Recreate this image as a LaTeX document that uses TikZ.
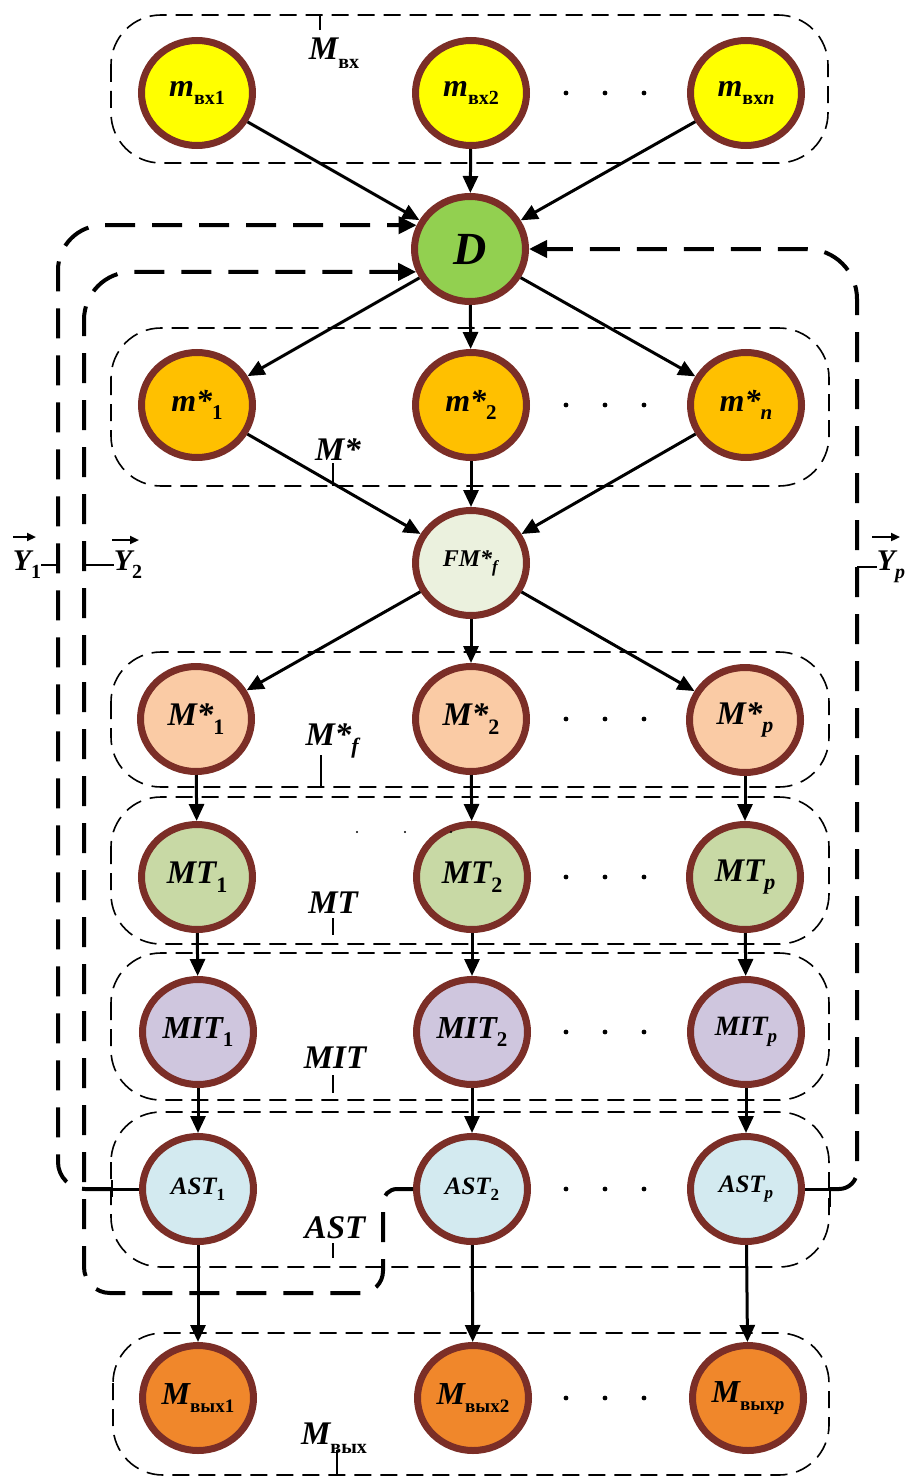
\documentclass[tikz,border=0pt]{standalone}
\usepackage{fontspec}
\setmainfont{Liberation Serif}
\usetikzlibrary{shapes.geometric,arrows.meta}
\definecolor{brd}{HTML}{7B2E27}
\definecolor{cyel}{HTML}{FFFF00}
\definecolor{cD}{HTML}{92D050}
\definecolor{cms}{HTML}{FFC000}
\definecolor{cfm}{HTML}{EBF1DE}
\definecolor{cMs}{HTML}{FACBA5}
\definecolor{cMT}{HTML}{C8D9A5}
\definecolor{cMIT}{HTML}{CFC6DE}
\definecolor{cAST}{HTML}{D3EAF0}
\definecolor{cout}{HTML}{F0872B}
\newcommand{\fs}[1]{\fontsize{#1}{#1}\selectfont}
\newcommand{\lsb}[2]{\raisebox{-0.26em}{\fontsize{#1}{#1}\selectfont\upshape #2}}
\tikzset{
 nd/.style={ellipse, draw=brd, line width=7pt, minimum width=111pt, minimum height=105pt, inner sep=0pt, font=\bfseries\itshape},
 grp/.style={draw, line width=1.6pt, dash pattern=on 17pt off 9pt, rounded corners=50pt},
 arr/.style={line width=3pt, -{Triangle[length=17pt,width=15pt]}},
 fb/.style={line width=4pt, dash pattern=on 30pt off 17pt, -{Triangle[length=18pt,width=17pt]}},
 stub/.style={line width=3pt},
 tick/.style={line width=1.6pt},
 lbl/.style={inner sep=0pt, font=\bfseries\itshape},
 vecarr/.style={line width=2.2pt, -{Triangle[length=9pt,width=8pt]}},
}
\begin{document}
\begin{tikzpicture}[x=1pt,y=-1pt]
\useasboundingbox (0,0) rectangle (909,1477);
% group boxes
\draw[grp] (111,15) rectangle (828,163);
\draw[grp] (111,328) rectangle (829,486);
\draw[grp] (111,652) rectangle (829,787);
\draw[grp] (111,797) rectangle (829,944);
\draw[grp] (111,953) rectangle (829,1100);
\draw[grp] (111,1112) rectangle (829,1267);
\draw[grp] (113,1333) rectangle (829,1475);
% group labels
\node[lbl] (Lin) at (334,53) {\fs{33}M\lsb{20}{вх}};
\draw[tick] (320,15) -- (320,30);
\node[lbl] (Lms) at (338,450) {\fs{33}M*};
\draw[tick] (333,463) -- (333,486);
\node[lbl] (LMf) at (333,741) {\fs{33}M*\lsb{22}{\textit{f}}};
\draw[tick] (321,755) -- (321,787);
\node[lbl] (LMT) at (333,903) {\fs{33}MT};
\draw[tick] (333,918) -- (333,935);
\node[lbl] (LMIT) at (335,1058) {\fs{33}MIT};
\draw[tick] (333,1075) -- (333,1093);
\node[lbl] (LAST) at (335,1228) {\fs{33}AST};
\draw[tick] (333,1243) -- (333,1258);
\node[lbl] (Lout) at (334,1438) {\fs{33}M\lsb{20}{вых}};
\draw[tick] (337,1450) -- (337,1475);
% nodes
\node[nd, fill=cyel] (a1) at (197,93) {\fs{32}m\lsb{20}{вх1}};
\node[nd, fill=cyel] (a2) at (471,93) {\fs{32}m\lsb{20}{вх2}};
\node[nd, fill=cyel] (a3) at (746,93) {\fs{32}m\lsb{20}{вх\textit{n}}};
\node[nd, fill=cD] (D) at (470,249) {\fs{46}D};
\node[nd, fill=cms] (b1) at (197,405) {\fs{32}m*\lsb{21}{1}};
\node[nd, fill=cms] (b2) at (471,405) {\fs{32}m*\lsb{21}{2}};
\node[nd, fill=cms] (b3) at (746,405) {\fs{32}m*\lsb{21}{\textit{n}}};
\node[nd, fill=cfm] (FM) at (471,563) {\fs{24}FM*\lsb{17}{\textit{f}}};
\node[nd, fill=cMs] (c1) at (196,719) {\fs{33}M*\lsb{22}{1}};
\node[nd, fill=cMs] (c2) at (471,719) {\fs{33}M*\lsb{22}{2}};
\node[nd, fill=cMs] (c3) at (745,720) {\fs{33}M*\lsb{22}{\textit{p}}};
\node[nd, fill=cMT] (d1) at (197,877) {\fs{33}MT\lsb{22}{1}};
\node[nd, fill=cMT] (d2) at (472,877) {\fs{33}MT\lsb{22}{2}};
\node[nd, fill=cMT] (d3) at (745,877) {\fs{33}MT\lsb{22}{\textit{p}}};
\node[nd, fill=cMIT] (e1) at (198,1032) {\fs{32}MIT\lsb{21}{1}};
\node[nd, fill=cMIT] (e2) at (472,1032) {\fs{32}MIT\lsb{21}{2}};
\node[nd, fill=cMIT] (e3) at (746,1032) {\fs{28}MIT\lsb{19}{\textit{p}}};
\node[nd, fill=cAST] (f1) at (198,1189) {\fs{25}AST\lsb{17}{1}};
\node[nd, fill=cAST] (f2) at (472,1189) {\fs{25}AST\lsb{17}{2}};
\node[nd, fill=cAST] (f3) at (746,1189) {\fs{25}AST\lsb{17}{\textit{p}}};
\node[nd, fill=cout] (g1) at (198,1398) {\fs{32}M\lsb{19}{вых1}};
\node[nd, fill=cout] (g2) at (473,1398) {\fs{32}M\lsb{19}{вых2}};
\node[nd, fill=cout] (g3) at (748,1398) {\fs{32}M\lsb{19}{вых\textit{p}}};
% dots
\foreach \yy in {93,405,719,877,1032,1189,1398}
  \foreach \xx in {566,605,644}
    \fill (\xx,\yy) circle (2.4pt);
\foreach \xx in {357,405,451}
  \fill (\xx,832) circle (1.1pt);
% arrows
\draw[arr] (a1) -- (D);
\draw[arr] (a2) -- (D);
\draw[arr] (a3) -- (D);
\draw[arr] (D) -- (b1);
\draw[arr] (D) -- (b2);
\draw[arr] (D) -- (b3);
\draw[arr] (b1) -- (FM);
\draw[arr] (b2) -- (FM);
\draw[arr] (b3) -- (FM);
\draw[arr] (FM) -- (c1);
\draw[arr] (FM) -- (c2);
\draw[arr] (FM) -- (c3);
\foreach \i in {1,2,3}{
  \draw[arr] (c\i) -- (d\i);
  \draw[arr] (d\i) -- (e\i);
  \draw[arr] (e\i) -- (f\i);
  \draw[arr] (f\i) -- (g\i);
}
% feedback loops
\draw[stub] (f1.west) -- (112,1189);
\draw[tick] (112,1180) -- (112,1197);
\draw[fb] (112,1189) [rounded corners=27pt] -- (58,1189) [rounded corners=45pt] -- (58,1189 |- D.156) [sharp corners] -- (D.156);
\draw[fb] (f2.west) [rounded corners=14pt] -- (383,1189) [rounded corners=22pt] -- (383,1293) [rounded corners=26pt] -- (84,1293) [rounded corners=48pt] -- (84,1293 |- D.203) [sharp corners] -- (D.203);
\draw[stub] (f3.east) -- (830,1189);
\draw[tick] (830,1189) -- (830,1207);
\draw[fb] (830,1189) [rounded corners=18pt] -- (857,1189) [rounded corners=50pt] -- (857,1189 |- D.east) [sharp corners] -- (D.east);
% Y labels
\node[lbl] (Y1) at (27,565) {\fs{30}Y\lsb{20}{1}};
\draw[vecarr] (13,537) -- (36,537);
\draw[line width=2pt] (Y1.east) -- (58,0 |- Y1.east);
\node[lbl] (Y2) at (128,565) {\fs{30}Y\lsb{20}{2}};
\draw[vecarr] (112,540) -- (139,540);
\draw[line width=2pt] (84,0 |- Y2.west) -- (Y2.west);
\node[lbl] (Yp) at (891,567) {\fs{30}Y\lsb{20}{\textit{p}}};
\draw[vecarr] (872,537) -- (900,537);
\draw[line width=2pt] (857,0 |- Yp.west) -- (Yp.west);
\end{tikzpicture}
\end{document}
